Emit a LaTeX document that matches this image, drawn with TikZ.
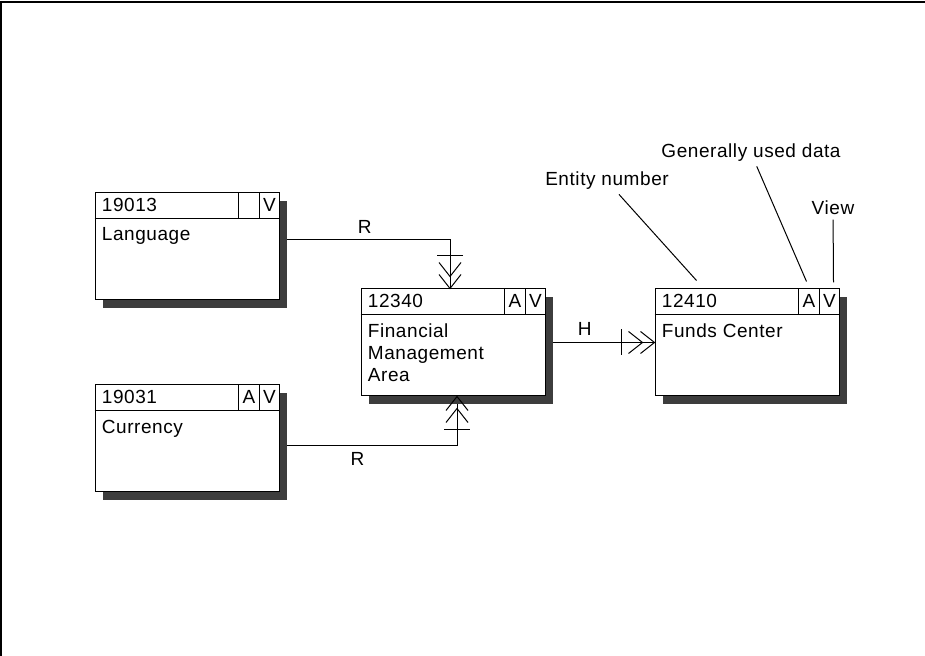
\documentclass[tikz,border=0pt]{standalone}
\usepackage{fontspec}
\setmainfont{Liberation Sans}[LetterSpace=3]
\usetikzlibrary{calc,positioning,shadows,backgrounds}
% one entity box: name, centre, number, A flag, title
\newcommand{\erentity}[5]{%
  \node[entbox] (#1) at (#2) {};
  \draw[entline] ($(#1.north west)+(0,26)$) -- ($(#1.north east)+(0,26)$);
  \draw[entline] ($(#1.north east)+(-41,0)$) -- ++(0,26);
  \draw[entline] ($(#1.north east)+(-20,0)$) -- ++(0,26);
  \node[enttext, anchor=base west] (#1-no) at ($(#1.north west)+(0,19)$) {#3};
  \node[enttext, inner xsep=0pt, anchor=base] (#1-a) at ($(#1.north east)+(-30.5,19)$) {#4};
  \node[enttext, inner xsep=0pt, anchor=base] (#1-v) at ($(#1.north east)+(-10,19)$) {V};
  \node[enttext, anchor=north west, align=left] (#1-t) at ($(#1.north west)+(0,31)$) {#5};
}
% crow's foot (many) at an apex, pointing along the angle
\newcommand{\manyend}[2]{%
  \begin{scope}[shift={(#1)}, rotate=#2]
    \draw[relline] (-33,-13) -- (-33,13);
    \draw[relline] (-14,-11) -- (0,0) -- (-14,11);
    \draw[relline] (-26,-11) -- (-12,0) -- (-26,11);
  \end{scope}}
\tikzset{
  entbox/.style={rectangle, draw, fill=white, line width=0.5pt, inner sep=0pt,
                 minimum width=92pt, minimum height=53.5pt,
                 drop shadow={shadow xshift=4pt, shadow yshift=-4pt,
                              fill=black!76, opacity=1}},
  entline/.style={line width=0.5pt},
  enttext/.style={font=\fontsize{9.5}{11}\selectfont, inner xsep=3.5pt, inner ysep=2pt},
  relline/.style={line width=0.5pt},
  rlabel/.style={font=\fontsize{9.5}{11}\selectfont, inner sep=3pt},
  note/.style={font=\fontsize{9.5}{11}\selectfont, inner sep=2pt},
  noteline/.style={line width=0.5pt},
}
\begin{document}
\begin{tikzpicture}[x=0.5pt, y=-0.5pt]
  \useasboundingbox (0,0) rectangle (925,656);
  \draw[line width=1pt] (1,656) -- (1,2.5) -- (925,2.5);

  \erentity{lang}{187,246.5}{19013}{}{Language}
  \erentity{cur}{187,438.5}{19031}{A}{Currency}
  \erentity{fma}{453,342.5}{12340}{A}{Financial\\Management\\Area}
  \erentity{fund}{747,342.5}{12410}{A}{Funds Center}

  \coordinate (lang-r) at ($(lang.east)+(0,-6.5)$);
  \coordinate (cur-r) at ($(cur.east)+(0,7.5)$);
  \coordinate (fma-top) at ($(fma.north)+(-3,0)$);
  \coordinate (fma-bot) at ($(fma.south)+(4,0)$);

  \begin{scope}[on background layer]
    \draw[relline] (lang-r) -| node[rlabel, pos=0.25, above] (r1) {R} (fma-top);
    \draw[relline] (cur-r) -| node[rlabel, pos=0.22, below] (r2) {R} (fma-bot);
    \draw[relline] (fma) -- node[rlabel, pos=0.36, above] (h) {H} (fund);
  \end{scope}
  \manyend{fma-top}{-90}
  \manyend{fma-bot}{90}
  \manyend{fund.west}{0}

  % explanations
  \node[note, anchor=base] (entno) at (607,186) {Entity number};
  \node[note, anchor=base] (gendata) at (751,158) {Generally used data};
  \node[note, anchor=base] (view) at (833,215) {View};
  \coordinate (p-no) at ($(fund.north west)+(42,-8)$);
  \coordinate (p-a) at ($(fund.north east)+(-33,-7)$);
  \coordinate (p-v) at ($(fund.north east)+(-6,-6)$);
  \draw[noteline] (entno) -- (p-no);
  \draw[noteline] (gendata) -- (p-a);
  \draw[noteline] (view) -- (p-v);
\end{tikzpicture}
\end{document}
